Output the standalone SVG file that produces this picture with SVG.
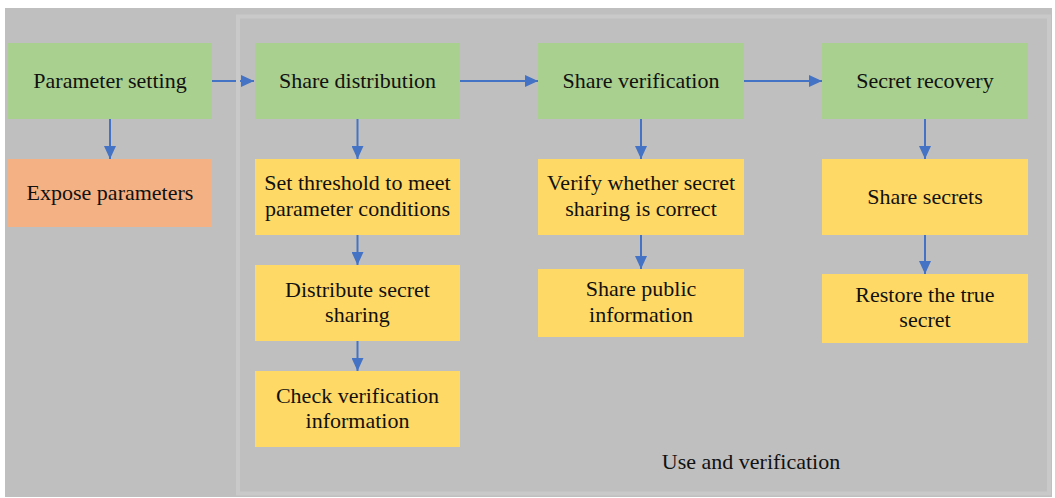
<svg xmlns="http://www.w3.org/2000/svg" width="1055" height="498" viewBox="0 0 1055 498">
<defs>
<marker id="ah" markerUnits="userSpaceOnUse" markerWidth="13" markerHeight="12" refX="13" refY="6" orient="auto">
<path d="M0,0 L13,6 L0,12 Z" fill="#4472c4"/>
</marker>
</defs>
<rect x="0" y="0" width="1055" height="498" fill="#ffffff"/>
<rect x="5" y="8" width="1047" height="489" fill="#bfbfbf"/>
<rect x="238" y="16.5" width="811" height="477" fill="#bfbfbf"/>
<g id="connectors" stroke="#4472c4" stroke-width="2" fill="none" marker-end="url(#ah)">
<path d="M212,81 H254"/>
<path d="M460,81 H538"/>
<path d="M744,81 H822"/>
<path d="M110,119 V159"/>
<path d="M357.5,119 V159"/>
<path d="M357.5,235 V265"/>
<path d="M357.5,341 V371"/>
<path d="M641,119 V159"/>
<path d="M641,235 V269"/>
<path d="M925,119 V159"/>
<path d="M925,235 V274"/>
</g>
<rect id="panel-border" x="238" y="16.5" width="811" height="477" fill="none" stroke="#c9c9c9" stroke-width="4"/>
<g id="param-setting"><rect fill="#a9d08e" x="8" y="43" width="204" height="76"/><text style="font-family:'Liberation Serif'" font-size="22" fill="#111" text-anchor="middle" x="110" y="88">Parameter setting</text></g>
<g id="expose-params"><rect fill="#f4b183" x="8" y="159" width="204" height="68"/><text style="font-family:'Liberation Serif'" font-size="22" fill="#111" text-anchor="middle" x="110" y="199.5">Expose parameters</text></g>
<g id="share-distribution"><rect fill="#a9d08e" x="255" y="43" width="205" height="76"/><text style="font-family:'Liberation Serif'" font-size="22" fill="#111" text-anchor="middle" x="357.5" y="88">Share distribution</text></g>
<g id="set-threshold"><rect fill="#ffd966" x="255" y="159" width="205" height="76"/><text style="font-family:'Liberation Serif'" font-size="22" fill="#111" text-anchor="middle" x="357.5" y="190">Set threshold to meet</text><text style="font-family:'Liberation Serif'" font-size="22" fill="#111" text-anchor="middle" x="357.5" y="215.5">parameter conditions</text></g>
<g id="distribute-secret"><rect fill="#ffd966" x="255" y="265" width="205" height="76"/><text style="font-family:'Liberation Serif'" font-size="22" fill="#111" text-anchor="middle" x="357.5" y="296.5">Distribute secret</text><text style="font-family:'Liberation Serif'" font-size="22" fill="#111" text-anchor="middle" x="357.5" y="322">sharing</text></g>
<g id="check-verification"><rect fill="#ffd966" x="255" y="371" width="205" height="76"/><text style="font-family:'Liberation Serif'" font-size="22" fill="#111" text-anchor="middle" x="357.5" y="402.5">Check verification</text><text style="font-family:'Liberation Serif'" font-size="22" fill="#111" text-anchor="middle" x="357.5" y="428">information</text></g>
<g id="share-verification"><rect fill="#a9d08e" x="538" y="43" width="206" height="76"/><text style="font-family:'Liberation Serif'" font-size="22" fill="#111" text-anchor="middle" x="641" y="88">Share verification</text></g>
<g id="verify-whether"><rect fill="#ffd966" x="538" y="159" width="206" height="76"/><text style="font-family:'Liberation Serif'" font-size="22" fill="#111" text-anchor="middle" x="641" y="190">Verify whether secret</text><text style="font-family:'Liberation Serif'" font-size="22" fill="#111" text-anchor="middle" x="641" y="215.5">sharing is correct</text></g>
<g id="share-public"><rect fill="#ffd966" x="538" y="269" width="206" height="68"/><text style="font-family:'Liberation Serif'" font-size="22" fill="#111" text-anchor="middle" x="641" y="296">Share public</text><text style="font-family:'Liberation Serif'" font-size="22" fill="#111" text-anchor="middle" x="641" y="321.5">information</text></g>
<g id="secret-recovery"><rect fill="#a9d08e" x="822" y="43" width="206" height="76"/><text style="font-family:'Liberation Serif'" font-size="22" fill="#111" text-anchor="middle" x="925" y="88">Secret recovery</text></g>
<g id="share-secrets"><rect fill="#ffd966" x="822" y="159" width="206" height="76"/><text style="font-family:'Liberation Serif'" font-size="22" fill="#111" text-anchor="middle" x="925" y="203.5">Share secrets</text></g>
<g id="restore-secret"><rect fill="#ffd966" x="822" y="274" width="206" height="69"/><text style="font-family:'Liberation Serif'" font-size="22" fill="#111" text-anchor="middle" x="925" y="301.5">Restore the true</text><text style="font-family:'Liberation Serif'" font-size="22" fill="#111" text-anchor="middle" x="925" y="327">secret</text></g>
<g id="panel-label"><text style="font-family:'Liberation Serif'" font-size="22" fill="#111" text-anchor="middle" x="751" y="469">Use and verification</text></g>
</svg>
